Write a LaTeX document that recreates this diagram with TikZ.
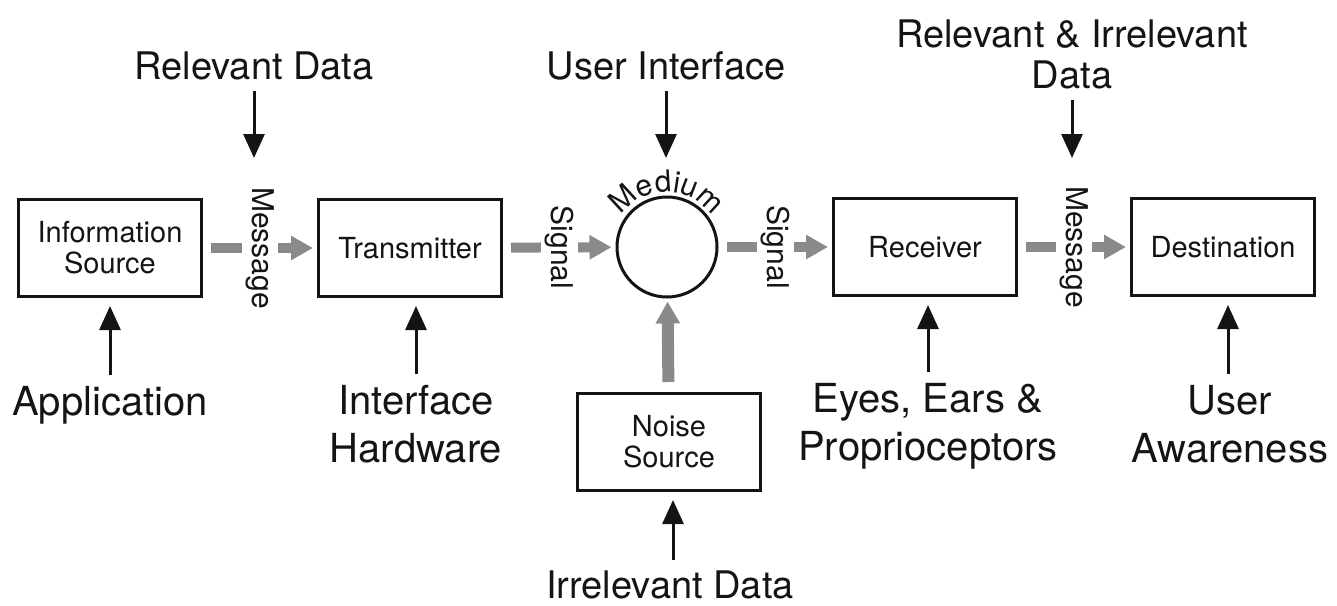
\documentclass[tikz,border=0pt]{standalone}
\usepackage{fontspec}
\setmainfont{TeX Gyre Heros}
\usetikzlibrary{arrows.meta,decorations.text,calc}
\definecolor{comInk}{HTML}{141414}
\definecolor{comGray}{HTML}{8A8A8A}
\tikzset{
  com box/.style={draw=comInk, line width=1.5pt, minimum width=91.5pt, minimum height=48.5pt, align=center, font=\fontsize{14.5}{15.5}\selectfont, text=comInk},
  com medium/.style={circle, draw=comInk, line width=1.5pt, minimum size=50pt, inner sep=0pt},
  com flow/.style={draw=comGray, line width=5pt, -{Triangle[length=11pt, width=11.5pt]}, shorten <=4pt, shorten >=2pt},
  com tag/.style={fill=white, rotate=-90, inner sep=2pt, font=\fontsize{15}{15}\selectfont, text=comInk},
  com feed/.style={draw=comInk, line width=1.5pt, -{Triangle[length=12pt, width=10.5pt]}},
  com label/.style={align=center, font=\fontsize{19}{20.5}\selectfont, text=comInk},
  com big label/.style={align=center, font=\fontsize{20}{24}\selectfont, text=comInk},
}

\begin{document}
\begin{tikzpicture}[x=0.5pt, y=-0.5pt]
  \useasboundingbox (0,0) rectangle (1337,605);

  % Main chain
  \node[com box] (src) at (110,248) {Information\\Source};
  \node[com box] (tx) at (410,248) {Transmitter};
  \node[com medium] (med) at (667,247) {};
  \node[com box] (rx) at (925,247) {Receiver};
  \node[com box] (dst) at (1223,247) {Destination};
  \node[com box] (noise) at (669,442) {Noise\\Source};

  % Curved title over the medium
  \path[decorate, decoration={text along path, text align={center},
      text={|\fontsize{15}{15}\selectfont\color{comInk}|Medium}}]
    ($(med.center)+(150:27.5pt)$) arc[start angle=150, end angle=30, radius=27.5pt];

  % Gray flow arrows with their tags
  \draw[com flow] (src) -- node[com tag] {Message} (tx);
  \draw[com flow] (tx) -- node[com tag] {Signal} (med);
  \draw[com flow] (med) -- node[com tag] {Signal} (rx);
  \draw[com flow] (rx) -- node[com tag] {Message} (dst);
  \draw[com flow, line width=6pt, shorten <=5pt, shorten >=1.5pt] (noise) -- (med);

  % Inputs from above
  \node[com label] (reldata) at (254,66) {Relevant Data};
  \node[com label] (ui) at (666,66) {User Interface};
  \node[com label] (mixdata) at (1072,54) {Relevant \& Irrelevant\\Data};
  \coordinate (reldata tip) at (254,158);
  \coordinate (ui tip) at (666,158);
  \coordinate (mixdata tip) at (1072,158);
  \draw[com feed, shorten <=2pt] (reldata) -- (reldata tip);
  \draw[com feed, shorten <=2pt] (ui) -- (ui tip);
  \draw[com feed, shorten <=2pt] (mixdata) -- (mixdata tip);

  % Inputs from below
  \node[com big label] (app) at (110,405) {Application};
  \node[com big label] (hw) at (416,424) {Interface\\Hardware};
  \node[com big label] (senses) at (928,426) {Eyes, Ears \&\\Proprioceptors};
  \node[com big label] (aware) at (1230,424) {User\\Awareness};
  \node[com label] (irr) at (670,585) {Irrelevant Data};
  \draw[com feed, shorten <=2pt, shorten >=4pt] (app) -- (src);
  \draw[com feed, shorten <=2pt, shorten >=4pt] (hw.north) -- (hw.north |- tx.south);
  \draw[com feed, shorten <=2pt, shorten >=4pt] (senses.north) -- (senses.north |- rx.south);
  \draw[com feed, shorten <=2pt, shorten >=4pt] ([xshift=-1pt]aware.north) -- ([xshift=-1pt]aware.north |- dst.south);
  \draw[com feed, shorten <=2pt, shorten >=4pt] ([xshift=1.5pt]irr.north) -- ([xshift=1.5pt]irr.north |- noise.south);
\end{tikzpicture}
\end{document}
